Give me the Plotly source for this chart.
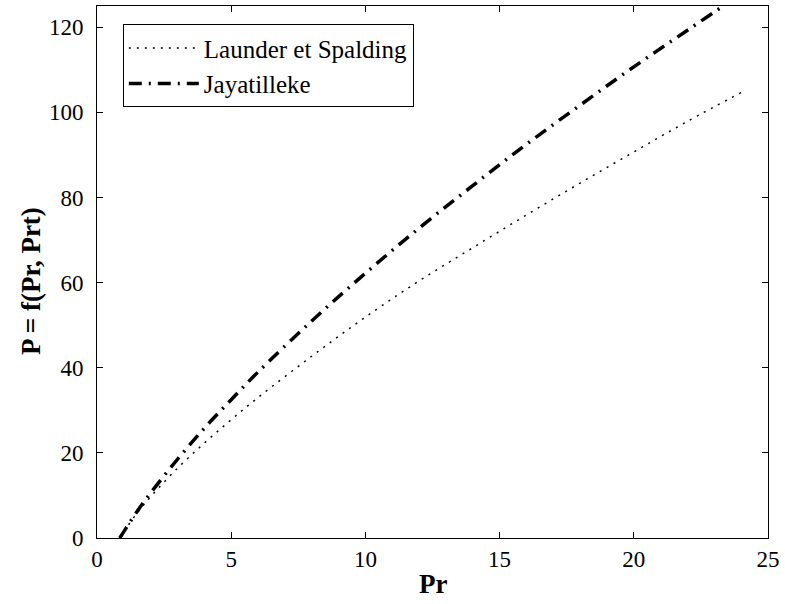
import plotly.graph_objects as go

pr = [0.85, 1, 1.5, 2, 3, 4, 5, 6, 8, 10, 12, 14, 16, 18, 20, 22, 24.1]
launder = [0, 1.5, 5.9, 9.7, 16.4, 22.3, 27.8, 33.0, 42.7, 51.9, 60.4, 68.2, 75.9, 83.4, 90.7, 97.9, 105.0]
jaya = [0, 1.5, 6.3, 10.6, 18.5, 25.8, 32.5, 39.0, 51.0, 62.2, 72.8, 82.8, 92.5, 101.7, 110.7, 119.3, 128.3]

x_ticks = [0, 5, 10, 15, 20, 25]
y_ticks = [0, 20, 40, 60, 80, 100, 120]

FONT = "Liberation Serif, Times New Roman, serif"

fig = go.Figure()
fig.add_trace(go.Scatter(x=pr, y=launder, mode="lines", name="Launder et Spalding",
                         line=dict(color="black", width=1.5, dash="2px,6px", shape="spline")))
fig.add_trace(go.Scatter(x=pr, y=jaya, mode="lines", name="Jayatilleke",
                         line=dict(color="black", width=3.5, dash="13px,7px,2px,7px", shape="spline")))

axis_common = dict(showline=True, linecolor="black", linewidth=1, mirror="ticks",
                   ticks="inside", ticklen=6, tickcolor="black", tickwidth=1,
                   showgrid=False, zeroline=False,
                   tickfont=dict(family=FONT, size=23, color="black"))

fig.update_xaxes(range=[0, 25], tickvals=x_ticks, ticklabelstandoff=0, **axis_common)
fig.update_yaxes(range=[0, 125], tickvals=y_ticks, ticklabelstandoff=8, **axis_common)

fig.add_annotation(text="<b>Pr</b>", xref="paper", yref="paper", x=0.5, y=(538 - 584) / 533,
                   xanchor="center", yanchor="middle", showarrow=False,
                   font=dict(family=FONT, size=27, color="black"))
fig.add_annotation(text="<b>P = f(Pr, Prt)</b>", xref="paper", yref="paper", x=(31 - 97) / 676,
                   y=(538 - 280) / 533, xanchor="center", yanchor="middle", textangle=-90,
                   showarrow=False, font=dict(family=FONT, size=27, color="black"))

fig.update_layout(
    width=785, height=604,
    margin=dict(l=97, r=12, t=5, b=66),
    paper_bgcolor="white", plot_bgcolor="white",
    showlegend=True,
    legend=dict(x=(123 - 97) / 676, y=(538 - 23.3) / 533, xanchor="left", yanchor="top",
                bgcolor="white", bordercolor="black", borderwidth=1, itemwidth=70,
                font=dict(family=FONT, size=25, color="black")),
)

fig.write_html("out.html")
